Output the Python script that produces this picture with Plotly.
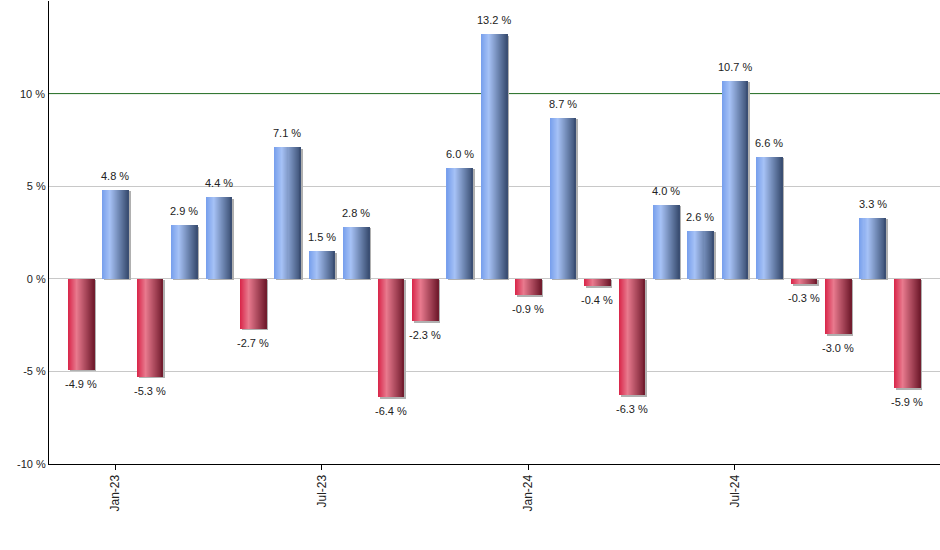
import plotly.graph_objects as go

months = ["Dec-22", "Jan-23", "Feb-23", "Mar-23", "Apr-23", "May-23", "Jun-23",
          "Jul-23", "Aug-23", "Sep-23", "Oct-23", "Nov-23", "Dec-23",
          "Jan-24", "Feb-24", "Mar-24", "Apr-24", "May-24", "Jun-24",
          "Jul-24", "Aug-24", "Sep-24", "Oct-24", "Nov-24", "Dec-24"]
returns = [-4.9, 4.8, -5.3, 2.9, 4.4, -2.7, 7.1, 1.5, 2.8, -6.4, -2.3, 6.0, 13.2,
           -0.9, 8.7, -0.4, -6.3, 4.0, 2.6, 10.7, 6.6, -0.3, -3.0, 3.3, -5.9]
tick_months = ["Jan-23", "Jul-23", "Jan-24", "Jul-24"]

# horizontal gradient stops, left -> right
BLUE_STOPS = [(0.0, (118, 158, 236)), (0.3, (166, 194, 246)), (1.0, (56, 76, 112))]
RED_STOPS = [(0.0, (216, 36, 72)), (0.33, (232, 122, 142)), (1.0, (112, 26, 44))]
N_STRIPS = 26
BAR_W = 0.76
PX_X = 34.42  # px per category
PX_Y = 18.6   # px per percent


def grad(stops, t):
    for (t0, c0), (t1, c1) in zip(stops, stops[1:]):
        if t0 <= t <= t1:
            f = (t - t0) / (t1 - t0)
            return "rgb(%d,%d,%d)" % tuple(round(a + (b - a) * f) for a, b in zip(c0, c1))
    return "rgb(%d,%d,%d)" % stops[-1][1]


x = list(range(len(months)))
fig = go.Figure()

# drop shadow
fig.add_trace(go.Bar(
    x=x, y=returns, base=-1.5 / PX_Y, width=BAR_W, offset=-BAR_W / 2 + 2 / PX_X,
    marker=dict(color="#b0b0b0", line=dict(width=0)), hoverinfo="skip", showlegend=False,
))

step = BAR_W / N_STRIPS
for k in range(N_STRIPS):
    t = (k + 0.5) / N_STRIPS
    colors = [grad(BLUE_STOPS, t) if v >= 0 else grad(RED_STOPS, t) for v in returns]
    w = step * 2 if k < N_STRIPS - 1 else step
    fig.add_trace(go.Bar(
        x=x, y=returns, width=w, offset=-BAR_W / 2 + k * step,
        marker=dict(color=colors, line=dict(width=0)),
        showlegend=False, hovertemplate="%{y:.1f} %<extra></extra>",
    ))

annotations = [
    dict(x=i, y=v, text="%.1f %%" % v, showarrow=False,
         yshift=14 if v >= 0 else -14, xanchor="center", yanchor="middle",
         font=dict(family="Liberation Sans, Arial", size=11, color="#222"))
    for i, v in zip(x, returns)
]

fig.update_layout(
    width=940, height=550,
    margin=dict(l=49, r=0, t=1, b=86),
    barmode="overlay",
    bargap=0,
    paper_bgcolor="white",
    plot_bgcolor="white",
    font=dict(family="Liberation Sans, Arial", size=11, color="#222"),
    annotations=annotations,
    shapes=[dict(type="line", xref="paper", x0=0, x1=1, yref="y", y0=10, y1=10,
                 line=dict(color="#1f6a1f", width=1), layer="between")],
)
fig.update_xaxes(
    range=[-0.93, len(months) - 0.04], automargin=False,
    tickvals=[months.index(m) for m in tick_months], ticktext=tick_months,
    tickangle=-90, ticks="outside", ticklen=5, tickcolor="black",
    tickfont=dict(size=12),
    showline=True, linecolor="black", linewidth=1, showgrid=False, zeroline=False,
)
fig.update_yaxes(
    range=[-10, 15], automargin=False, tickvals=[-10, -5, 0, 5, 15],
    ticktext=["-10 %", "-5 %", "0 %", "5 %", ""],
    showline=True, linecolor="black", linewidth=1, ticks="",
    showgrid=True, gridcolor="#c8c8c8", gridwidth=1, zeroline=False,
)
# 10 % label without a grey gridline under the green line
fig.add_annotation(x=0, xref="paper", xanchor="right", xshift=-2, y=10, yref="y",
                   text="10 %", showarrow=False,
                   font=dict(family="Liberation Sans, Arial", size=11, color="#222"))

fig.write_html("out.html", config={"displayModeBar": False},
               post_script="document.body.style.margin='0';")
